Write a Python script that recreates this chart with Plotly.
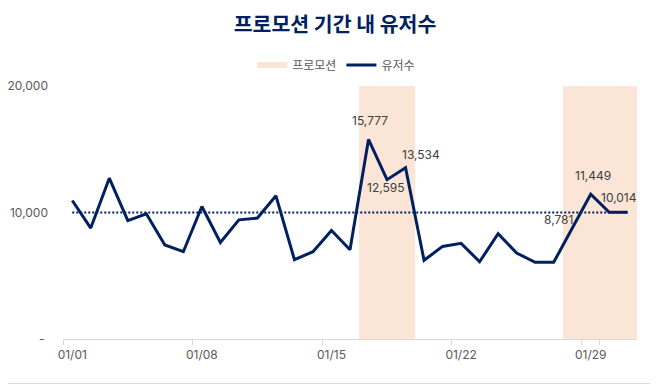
import plotly.graph_objects as go

# ---- data ----
dates = [f"01/{d:02d}" for d in range(1, 32)]
users = [10950, 8770, 12710, 9350, 9900, 7430, 6900, 10470, 7630, 9420,
         9560, 11320, 6270, 6900, 8580, 7060, 15777, 12595, 13534, 6220,
         7320, 7560, 6110, 8320, 6800, 6060, 6060, 8781, 11449, 10014, 10014]
promo_days = ["01/17", "01/18", "01/19", "01/28", "01/29", "01/30", "01/31"]
reference_value = 10000
y_ticks = [0, 10000, 20000]
y_tick_text = ["- ", "10,000", "20,000"]
x_tick_vals = ["01/01", "01/08", "01/15", "01/22", "01/29"]
labeled_days = ["01/17", "01/18", "01/19", "01/28", "01/29", "01/30"]

# ---- styles ----
NAVY = "#002060"
PEACH = "#FBE5D6"
GRAY_TXT = "#595959"
AXIS = "#D9D9D9"
FONT = "Inter, Noto Sans CJK KR, sans-serif"
label_shift = {"01/17": (1, 19), "01/18": (-1, -8), "01/19": (15, 13),
               "01/28": (-14, 8), "01/29": (2, 19), "01/30": (10, 15)}

# page body has an 8px margin; figure is sized to fill the rest of the window
W, H = 650, 377
ML, MR, MT, MB = 55, 21, 78, 46
plot_h = H - MT - MB

y_max = y_ticks[-1]

fig = go.Figure()

fig.add_trace(go.Bar(x=promo_days, y=[y_max] * len(promo_days), marker=dict(color=PEACH, line=dict(width=0)),
                     width=1, showlegend=False, hoverinfo="skip", name="프로모션"))
fig.add_trace(go.Scatter(x=[dates[0]], y=[None], mode="lines", line=dict(color=PEACH, width=6),
                         name="프로모션", showlegend=True))
fig.add_trace(go.Scatter(x=dates, y=[reference_value] * len(dates), mode="lines",
                         line=dict(color=NAVY, width=2, dash="2px,2px"), showlegend=False, hoverinfo="skip"))
fig.add_trace(go.Scatter(x=dates, y=users, mode="lines", line=dict(color=NAVY, width=3),
                         name="유저수"))

for d in labeled_days:
    i = dates.index(d)
    dx, dy = label_shift[d]
    fig.add_annotation(x=d, y=users[i], text=f"{users[i]:,}", showarrow=False,
                       xanchor="center", yanchor="middle", xshift=dx, yshift=dy,
                       font=dict(family=FONT, size=12, color="#404040"))

fig.add_shape(type="line", xref="paper", yref="paper", x0=-0.2, x1=1.1,
              y0=-44.5 / plot_h, y1=-44.5 / plot_h, line=dict(color=AXIS, width=1))

fig.update_layout(
    width=W, height=H,
    margin=dict(l=ML, r=MR, t=MT, b=MB, autoexpand=False),
    paper_bgcolor="white", plot_bgcolor="white",
    bargap=0,
    font=dict(family=FONT, size=12, color=GRAY_TXT),
    title=dict(text="<b>프로모션 기간 내 유저수</b>", x=327 / W, xanchor="center", xref="container",
               y=1 - 17 / H, yanchor="middle", yref="container",
               font=dict(family="Noto Sans CJK KR", size=20.5, color=NAVY)),
    legend=dict(orientation="h", x=0.476, xanchor="center", y=1 + 21 / plot_h, yanchor="middle",
                font=dict(family="Noto Sans CJK KR", size=12, color=GRAY_TXT),
                traceorder="normal", bgcolor="rgba(0,0,0,0)"),
    xaxis=dict(type="category", categoryorder="array", categoryarray=dates,
               range=[-0.5, len(dates) - 0.5], automargin=False, tickangle=0,
               tickmode="array", tickvals=x_tick_vals, tickson="boundaries",
               ticks="outside", ticklen=5, tickcolor=AXIS, ticklabelstandoff=5,
               showline=True, linecolor=AXIS, linewidth=1, showgrid=False, zeroline=False,
               tickfont=dict(family=FONT, size=12, color=GRAY_TXT), fixedrange=True),
    yaxis=dict(range=[0, y_max], tickmode="array", tickvals=y_ticks, ticktext=y_tick_text,
               showgrid=False, zeroline=False, showline=False, ticks="", automargin=False,
               ticklabelstandoff=14,
               tickfont=dict(family=FONT, size=12, color=GRAY_TXT), fixedrange=True),
    showlegend=True,
)

fig.write_html("out.html")
